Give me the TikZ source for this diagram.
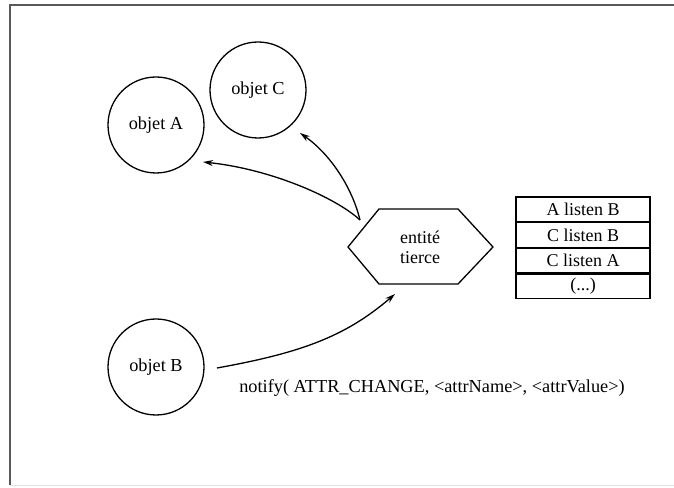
\documentclass[tikz,border=0pt]{standalone}
\usepackage{fontspec}
\setmainfont{Liberation Serif}
\usetikzlibrary{arrows.meta}
\begin{document}
\begin{tikzpicture}[x=1pt,y=1pt,
  obj/.style={draw,circle,line width=1.3pt,minimum size=96pt,inner sep=0pt,font=\fontsize{18.3}{21}\selectfont},
  row/.style={draw,rectangle,line width=1.2pt,minimum width=134pt,minimum height=24.5pt,inner sep=0pt,font=\fontsize{18}{21}\selectfont},
  conn/.style={line width=1.3pt,-{Stealth[length=10pt,width=6pt]}},
  hexline/.style={line width=1.3pt}]
\useasboundingbox (0,0) rectangle (674,487);
% frame
\coordinate (f1) at (10,2);
\coordinate (f2) at (10,482);
\coordinate (f3) at (674,482);
\coordinate (f4) at (674,2);
\draw[line width=1.8pt,black!65] (f1) -- (f2) -- (f3);
\draw[line width=1pt,black!12] (f1) -- (f4);
% objects
\node[obj] (A) at (156,362) {objet A};
\node[obj] (C) at (258,397) {objet C};
\node[obj] (B) at (156,120) {objet B};
% hexagon
\coordinate (h1) at (348,240);
\coordinate (h2) at (379,278);
\coordinate (h3) at (458,278);
\coordinate (h4) at (493,240);
\coordinate (h5) at (458,203);
\coordinate (h6) at (379,203);
\draw[hexline] (h1) -- (h2) -- (h3) -- (h4) -- (h5) -- (h6) -- cycle;
\node[font=\fontsize{18}{20}\selectfont,align=center] (E) at (420,240) {entité\\tierce};
% table
\node[row] (r1) at (583,277.75) {A listen B};
\node[row,anchor=north] (r2) at (r1.south) {C listen B};
\node[row,anchor=north] (r3) at (r2.south) {C listen A};
\node[row,anchor=north] (r4) at (r3.south) {(...)};
% connectors
\coordinate (s) at (360,267);
\coordinate (ea) at (203,325);
\coordinate (ec) at (300,354);
\coordinate (sb) at (217,119);
\coordinate (eb) at (395,193);
\draw[conn] (s) .. controls (335,290) and (270,318) .. (ea);
\draw[conn] (s) .. controls (352,300) and (330,333) .. (ec);
\draw[conn] (sb) .. controls (300,134) and (345,150) .. (eb);
% label
\node[font=\fontsize{18.3}{21}\selectfont] (N) at (432,99) {notify( ATTR\_CHANGE, <attrName>, <attrValue>)};
\end{tikzpicture}
\end{document}
